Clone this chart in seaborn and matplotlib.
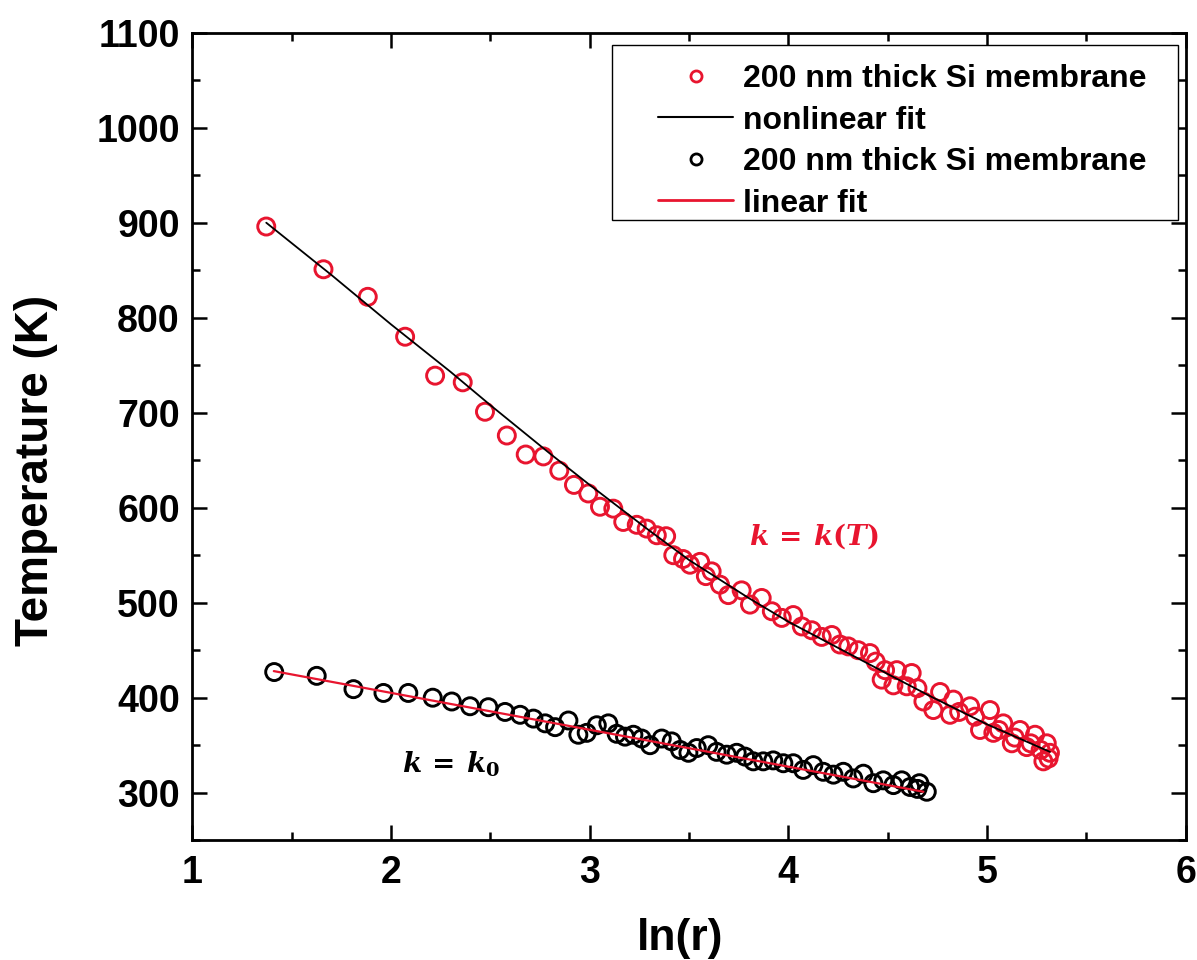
import matplotlib
matplotlib.use("Agg")
import matplotlib.pyplot as plt
import seaborn as sns
import numpy as np
from matplotlib.lines import Line2D
from matplotlib.patches import Rectangle
from matplotlib.ticker import MultipleLocator

# ---------------- data ----------------
red_x = [1.372, 1.660, 1.883, 2.071, 2.222, 2.361, 2.473, 2.583, 2.678, 2.767,
         2.847, 2.921, 2.993, 3.052, 3.119, 3.169, 3.237, 3.287, 3.338, 3.385,
         3.421, 3.470, 3.505, 3.556, 3.585, 3.614, 3.656, 3.698, 3.765, 3.807,
         3.866, 3.917, 3.967, 4.025, 4.068, 4.118, 4.168, 4.219, 4.260, 4.302,
         4.352, 4.411, 4.440, 4.470, 4.487, 4.529, 4.546, 4.596, 4.621, 4.650,
         4.680, 4.730, 4.764, 4.814, 4.831, 4.860, 4.915, 4.940, 4.965, 5.015,
         5.032, 5.060, 5.082, 5.125, 5.140, 5.166, 5.200, 5.220, 5.242, 5.270,
         5.284, 5.301, 5.310, 5.317]
red_y = [896, 851, 822, 780, 739, 732, 701, 676, 656, 654,
         639, 624, 615, 601, 599, 585, 582, 578, 571, 570,
         550, 546, 540, 543, 528, 533, 519, 508, 513, 498,
         505, 491, 484, 487, 475, 471, 464, 466, 456, 454,
         450, 447, 438, 419, 429, 413, 429, 412, 426, 410,
         396, 387, 406, 382, 398, 385, 391, 380, 366, 387,
         363, 366, 373, 352, 358, 366, 348, 352, 361, 345,
         333, 352, 336, 342]

nonlin_x = [1.372, 1.7, 2.0, 2.3, 2.5, 2.8, 3.0, 3.3, 3.5, 3.8,
            4.0, 4.3, 4.5, 4.72, 5.0, 5.317]
nonlin_y = [900, 845, 793, 743, 708, 657, 624, 576, 545, 505,
            480, 447, 425, 401, 372, 343]

black_x = [1.412, 1.626, 1.811, 1.962, 2.087, 2.210, 2.306, 2.398, 2.490, 2.574,
           2.650, 2.717, 2.776, 2.826, 2.893, 2.943, 2.985, 3.036, 3.094, 3.136,
           3.178, 3.220, 3.262, 3.304, 3.363, 3.413, 3.455, 3.497, 3.539, 3.597,
           3.639, 3.690, 3.740, 3.782, 3.824, 3.874, 3.924, 3.975, 4.025, 4.075,
           4.126, 4.176, 4.227, 4.277, 4.327, 4.378, 4.428, 4.478, 4.529, 4.571,
           4.613, 4.650, 4.660, 4.697]
black_y = [427, 423, 409, 405, 405, 400, 396, 391, 390, 385,
           382, 378, 373, 369, 376, 361, 363, 371, 373, 362,
           359, 361, 357, 350, 357, 354, 345, 342, 347, 350,
           343, 340, 342, 338, 333, 333, 334, 331, 331, 324,
           329, 322, 319, 322, 315, 320, 310, 313, 308, 313,
           306, 304, 310, 301]

lin_x = [1.41, 4.68]
lin_y = [428, 301]

legend_labels = ["200 nm thick Si membrane", "nonlinear fit",
                 "200 nm thick Si membrane", "linear fit"]
x_ticks = [1, 2, 3, 4, 5, 6]
y_ticks = [300, 400, 500, 600, 700, 800, 900, 1000, 1100]

RED = "#E8152F"

# ---------------- style ----------------
sns.set_theme(style="ticks")
plt.rcParams["font.family"] = ["Liberation Sans", "DejaVu Sans"]
plt.rcParams["font.weight"] = "bold"
plt.rcParams["text.color"] = "black"
plt.rcParams["axes.labelcolor"] = "black"
plt.rcParams["xtick.color"] = "black"
plt.rcParams["ytick.color"] = "black"
plt.rcParams["xtick.labelcolor"] = "black"
plt.rcParams["ytick.labelcolor"] = "black"
plt.rcParams["mathtext.fontset"] = "custom"
plt.rcParams["mathtext.it"] = "DejaVu Serif:italic:bold"
plt.rcParams["mathtext.rm"] = "DejaVu Serif:bold"
plt.rcParams["mathtext.bf"] = "DejaVu Serif:bold"

fig = plt.figure(figsize=(11.97, 9.6), dpi=100)
ax = fig.add_axes([0.1607, 0.1248, 0.8298, 0.8411])
ax.set_facecolor("white")

sns.scatterplot(x=red_x, y=red_y, ax=ax, s=150, facecolors="none",
                edgecolor=RED, linewidth=2.1, zorder=2)
sns.lineplot(x=nonlin_x, y=nonlin_y, ax=ax, color="black", lw=1.3,
             sort=False, estimator=None, zorder=3)
sns.scatterplot(x=black_x, y=black_y, ax=ax, s=150, facecolors="none",
                edgecolor="black", linewidth=2.1, zorder=2)
sns.lineplot(x=lin_x, y=lin_y, ax=ax, color=RED, lw=1.6,
             sort=False, estimator=None, zorder=3)

ax.set_xlim(1, 6)
ax.set_ylim(250, 1100)
ax.set_xticks(x_ticks)
ax.set_yticks(y_ticks)
ax.xaxis.set_minor_locator(MultipleLocator(0.5))
ax.yaxis.set_minor_locator(MultipleLocator(50))
ax.tick_params(which="both", direction="in", top=True, right=True,
               width=1.8, color="black", labelcolor="black")
ax.tick_params(which="major", length=11)
ax.tick_params(which="minor", length=6)
ax.tick_params(axis="x", which="major", labelsize=27, pad=11)
ax.tick_params(axis="y", which="major", labelsize=27, pad=9)
for lbl in ax.get_xticklabels() + ax.get_yticklabels():
    lbl.set_fontweight("bold")
for sp in ax.spines.values():
    sp.set_linewidth(2.0)
    sp.set_color("black")

ax.set_xlabel("ln(r)", fontsize=32, fontweight="bold", color="black")
ax.set_ylabel("Temperature (K)", fontsize=33, fontweight="bold", color="black")
ax.xaxis.set_label_coords(0.491, -0.096)
ax.yaxis.set_label_coords(-0.135, 0.458)

# annotations
ax.text(4.13, 570, r"$k\,=\,k(T)$", color=RED, fontsize=20,
        ha="center", va="center")
ax.text(2.30, 330, r"$k\,=\,k_0$", color="black", fontsize=20,
        ha="center", va="center")

# legend (frame drawn separately)
ax.add_patch(Rectangle((0.4224, 0.7680), 0.5698, 0.2167, transform=ax.transAxes,
                       facecolor="white", edgecolor="black", lw=1.0, zorder=4))
handles = [
    Line2D([], [], ls="none", marker="o", mfc="none", mec=RED, mew=2, ms=8),
    Line2D([], [], color="black", lw=1.5),
    Line2D([], [], ls="none", marker="o", mfc="none", mec="black", mew=2, ms=8),
    Line2D([], [], color=RED, lw=2.0),
]
leg = ax.legend(handles, legend_labels, loc="upper left",
                bbox_to_anchor=(0.4688, 0.9612), borderaxespad=0, borderpad=0,
                frameon=False, handlelength=2.35, handletextpad=0.3,
                labelspacing=0.36, prop={"size": 23, "weight": "bold"})
leg.set_zorder(5)
for t in leg.get_texts():
    t.set_color("black")

fig.savefig("out.png", dpi=100, facecolor="white")
